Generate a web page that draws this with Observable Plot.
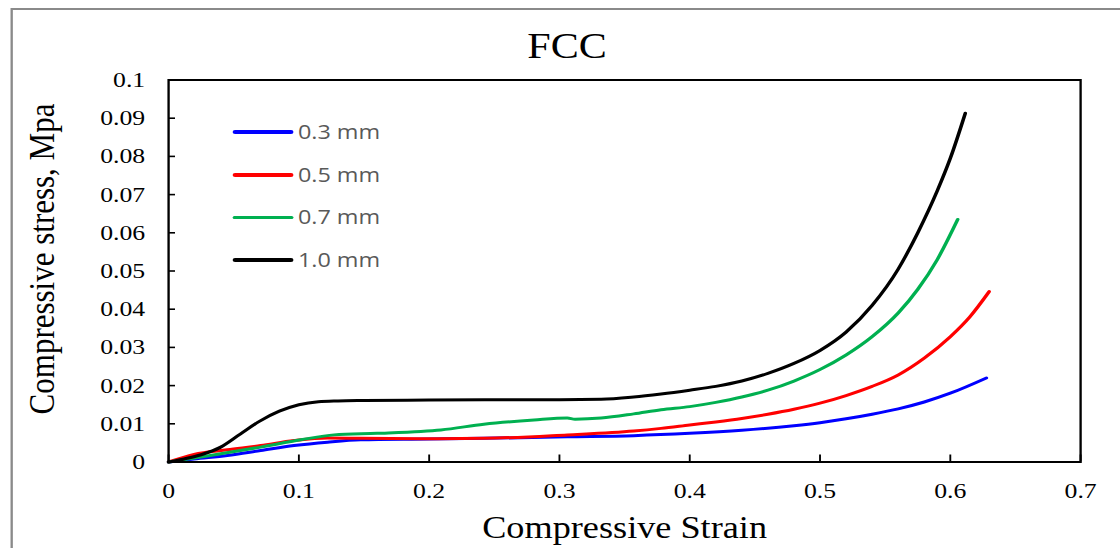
<!DOCTYPE html>
<html>
<head>
<meta charset="utf-8">
<script src="https://cdn.jsdelivr.net/npm/d3@7"></script>
<script src="https://cdn.jsdelivr.net/npm/@observablehq/plot@0.6"></script>
<style>
  html, body { margin: 0; padding: 0; background: #fff; overflow: hidden; }
  #stage { position: relative; width: 1120px; height: 548px; overflow: hidden; background: #fff; }
  #fig { position: absolute; left: 0; top: 0; width: 958px; height: 548px; transform: scaleX(1.1691); transform-origin: 0 0; }
  #border { position: absolute; left: 8.6px; top: 8px; width: 1200px; height: 800px; border: 2px solid #8a8a8a; box-sizing: border-box; }
  #title { position: absolute; left: 485px; top: 26px; transform: translateX(-50%); font-family: "Liberation Serif", serif; font-size: 36px; line-height: 40px; color: #000; white-space: nowrap; }
  #chart { position: absolute; left: 0; top: 0; }
  #legend { position: absolute; left: 199.3px; top: 0; }
  .row { position: absolute; left: 0; display: flex; align-items: center; height: 30px; white-space: nowrap; }
  .sw { display: inline-block; width: 51.5px; height: 3.5px; border-radius: 2px; }
  .lab { font-family: "Open Sans", sans-serif; font-size: 20px; color: #595959; margin-left: 4px; line-height: 30px; }
</style>
</head>
<body>
<div id="stage">
  <div id="fig">
    <div id="border"></div>
    <div id="chart"></div>
    <div id="title">FCC</div>
    <div id="legend"></div>
  </div>
</div>
<script>
// ---- data ----
const seriesNames = ["0.3 mm", "0.5 mm", "0.7 mm", "1.0 mm"];
const seriesColors = ["#0000ff", "#ff0000", "#00b050", "#000000"];

const strain03 = [0, 0.0195, 0.045, 0.0707, 0.0963, 0.122, 0.1475, 0.2, 0.242, 0.306, 0.357, 0.40, 0.44, 0.48, 0.50, 0.52, 0.54, 0.56, 0.58, 0.60, 0.6277];
const stress03 = [0, 0.0008, 0.0017, 0.003, 0.0043, 0.0052, 0.0058, 0.006, 0.0062, 0.0066, 0.0069, 0.0075, 0.0083, 0.0095, 0.0103, 0.0113, 0.0125, 0.0139, 0.0157, 0.018, 0.022];

const strain05 = [0, 0.0195, 0.045, 0.0707, 0.0963, 0.122, 0.1475, 0.1936, 0.242, 0.306, 0.357, 0.378, 0.40, 0.42, 0.44, 0.46, 0.48, 0.50, 0.52, 0.54, 0.56, 0.58, 0.60, 0.615, 0.6298];
const stress05 = [0, 0.002, 0.0032, 0.0043, 0.0056, 0.0063, 0.0062, 0.0061, 0.0062, 0.0071, 0.0081, 0.0088, 0.0097, 0.0105, 0.0114, 0.0125, 0.0138, 0.0154, 0.0174, 0.0198, 0.0228, 0.0272, 0.0328, 0.038, 0.0446];

const strain07 = [0, 0.032, 0.0707, 0.1014, 0.127, 0.16, 0.1936, 0.209, 0.242, 0.2805, 0.306, 0.312, 0.332, 0.357, 0.378, 0.40, 0.42, 0.44, 0.46, 0.48, 0.50, 0.52, 0.54, 0.56, 0.575, 0.59, 0.6057];
const stress07 = [0, 0.0017, 0.0039, 0.0058, 0.0071, 0.0075, 0.008, 0.0084, 0.0099, 0.011, 0.0115, 0.0112, 0.0115, 0.0126, 0.0137, 0.0145, 0.0156, 0.017, 0.0188, 0.0212, 0.0242, 0.028, 0.0328, 0.039, 0.0452, 0.053, 0.0635];

const strain10 = [0, 0.012, 0.025, 0.04, 0.055, 0.07, 0.085, 0.10, 0.115, 0.13, 0.15, 0.2, 0.25, 0.3, 0.332, 0.357, 0.378, 0.40, 0.42, 0.44, 0.46, 0.48, 0.50, 0.52, 0.54, 0.56, 0.575, 0.59, 0.60, 0.6115];
const stress10 = [0, 0.0008, 0.0019, 0.0039, 0.0073, 0.0107, 0.0133, 0.015, 0.0158, 0.016, 0.0161, 0.0162, 0.0163, 0.0163, 0.0164, 0.017, 0.0178, 0.0188, 0.0198, 0.0212, 0.0232, 0.0258, 0.0292, 0.034, 0.041, 0.0505, 0.06, 0.071, 0.0795, 0.0913];

const xTicks = [0, 0.1, 0.2, 0.3, 0.4, 0.5, 0.6, 0.7];
const xTickLabels = ["0", "0.1", "0.2", "0.3", "0.4", "0.5", "0.6", "0.7"];
const yTicks = [0, 0.01, 0.02, 0.03, 0.04, 0.05, 0.06, 0.07, 0.08, 0.09, 0.1];
const yTickLabels = ["0", "0.01", "0.02", "0.03", "0.04", "0.05", "0.06", "0.07", "0.08", "0.09", "0.1"];

const xLabel = "Compressive Strain";
const yLabel = "Compressive stress, Mpa";

// ---- build table ----
const strains = [strain03, strain05, strain07, strain10];
const stresses = [stress03, stress05, stress07, stress10];
const rows = [];
seriesNames.forEach((name, s) => {
  strains[s].forEach((x, i) => rows.push({series: name, strain: x, stress: stresses[s][i]}));
});

const chart = Plot.plot({
  width: 958,
  height: 548,
  marginLeft: 143.7,
  marginRight: 34.2,
  marginTop: 79.5,
  marginBottom: 86.5,
  style: {fontFamily: "'Liberation Serif', serif", fontSize: "22px", background: "transparent", color: "#000", overflow: "visible"},
  x: {domain: [0, 0.7]},
  y: {domain: [0, 0.1]},
  color: {domain: seriesNames, range: seriesColors},
  marks: [
    Plot.line(rows, {x: "strain", y: "stress", z: "series", stroke: "series", strokeWidth: 3, curve: "monotone-x"}),
    Plot.frame({stroke: "#000", strokeWidth: 2}),
    Plot.axisX({ticks: xTicks, tickFormat: (d, i) => xTickLabels[i], tickSize: -7, tickPadding: 27, strokeWidth: 1.6, fontSize: 22, label: null}),
    Plot.axisY({ticks: yTicks, tickFormat: (d, i) => yTickLabels[i], tickSize: -6, tickPadding: 26, strokeWidth: 1.6, fontSize: 22, label: null}),
    Plot.text([xLabel], {frameAnchor: "bottom", textAnchor: "middle", lineAnchor: "middle", dy: 66, fontSize: 31, text: d => d}),
    Plot.text([yLabel], {frameAnchor: "left", textAnchor: "middle", lineAnchor: "middle", rotate: -90, dx: -107.8, dy: -12, fontSize: 31, text: d => d})
  ]
});
document.getElementById("chart").appendChild(chart);

// ---- legend ----
const legendY = [132, 175, 217.3, 260];
const legend = document.getElementById("legend");
seriesNames.forEach((name, i) => {
  const row = document.createElement("div");
  row.className = "row";
  row.style.top = (legendY[i] - 15) + "px";
  const sw = document.createElement("span");
  sw.className = "sw";
  sw.style.background = seriesColors[i];
  const lab = document.createElement("span");
  lab.className = "lab";
  lab.textContent = name;
  row.appendChild(sw);
  row.appendChild(lab);
  legend.appendChild(row);
});
</script>
</body>
</html>
